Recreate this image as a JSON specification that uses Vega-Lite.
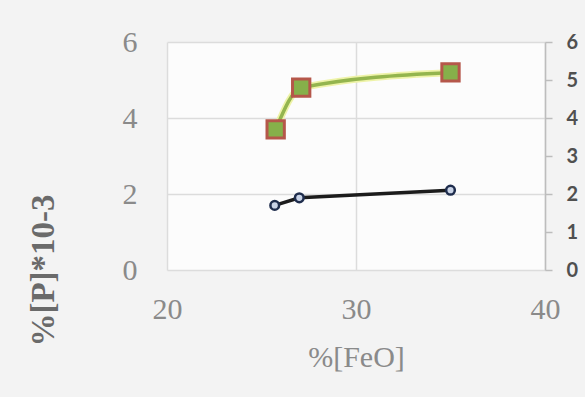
{
  "$schema": "https://vega.github.io/schema/vega-lite/v6.json",
  "width": 378,
  "height": 228,
  "autosize": {"type": "none"},
  "padding": {"left": 167, "top": 42, "right": 40, "bottom": 127},
  "background": "#f3f3f3",
  "config": {
    "view": {"fill": "#fcfcfc", "stroke": null},
    "axis": {"gridColor": "#dcdcdc", "gridWidth": 1.5}
  },
  "datasets": {
    "black": [
      {"feo": 25.7, "p": 1.7},
      {"feo": 27.0, "p": 1.9},
      {"feo": 35.0, "p": 2.1}
    ],
    "green": [
      {"feo": 25.75, "p": 3.7},
      {"feo": 27.1, "p": 4.8},
      {"feo": 35.0, "p": 5.2}
    ]
  },
  "layer": [
    {
      "data": {"name": "black"},
      "encoding": {
        "x": {
          "field": "feo", "type": "quantitative",
          "scale": {"domain": [20, 40], "nice": false},
          "axis": {
            "values": [20, 30, 40], "grid": true, "domain": false, "ticks": false,
            "labelFlush": false, "labelOverlap": false,
            "labelFont": "Liberation Serif", "labelFontSize": 30, "labelColor": "#8a8a8a",
            "labelPadding": 24,
            "title": "%[FeO]", "titleFont": "Liberation Serif", "titleFontSize": 30,
            "titleFontWeight": "normal", "titleColor": "#8a8a8a",
            "titleBaseline": "middle", "titleY": 87
          }
        },
        "y": {
          "field": "p", "type": "quantitative",
          "scale": {"domain": [0, 6], "nice": false},
          "axis": {
            "values": [0, 2, 4, 6], "grid": true, "domain": false, "ticks": false,
            "labelFont": "Liberation Serif", "labelFontSize": 30, "labelColor": "#8a8a8a",
            "labelPadding": 30,
            "title": "%[P]*10-3", "titleFont": "Liberation Serif", "titleFontSize": 33,
            "titleFontWeight": "bold", "titleColor": "#6a6a6a",
            "titleAngle": -90, "titleX": -124, "titleY": 228,
            "titleAlign": "center", "titleBaseline": "middle"
          }
        }
      },
      "layer": [
        {"mark": {"type": "line", "color": "#1c1c1c", "strokeWidth": 3.5}},
        {"mark": {"type": "point", "shape": "circle", "filled": true, "fill": "#c9d3e6", "stroke": "#1f2d4d", "strokeWidth": 2.5, "size": 75, "opacity": 1}}
      ]
    },
    {
      "data": {"name": "green"},
      "encoding": {
        "x": {"field": "feo", "type": "quantitative", "scale": {"domain": [20, 40], "nice": false}},
        "y": {
          "field": "p", "type": "quantitative",
          "scale": {"domain": [0, 6], "nice": false},
          "axis": {
            "orient": "right", "values": [0, 1, 2, 3, 4, 5, 6], "grid": false,
            "domain": true, "domainColor": "#bdbdbd", "domainWidth": 1.5,
            "ticks": true, "tickColor": "#bdbdbd", "tickSize": 7, "tickWidth": 1.5,
            "labelFont": "Lato", "labelFontWeight": "bold", "labelFontSize": 20,
            "labelColor": "#505050", "labelPadding": 14, "title": null
          }
        }
      },
      "layer": [
        {"mark": {"type": "line", "color": "#eef3a8", "strokeWidth": 7, "interpolate": "monotone"}},
        {"mark": {"type": "line", "color": "#94b54e", "strokeWidth": 3.5, "interpolate": "monotone"}},
        {"mark": {"type": "point", "shape": "square", "filled": true, "fill": "#86b04a", "stroke": "#b5574a", "strokeWidth": 3, "size": 300, "opacity": 1}}
      ]
    }
  ],
  "resolve": {"scale": {"y": "independent"}}
}
